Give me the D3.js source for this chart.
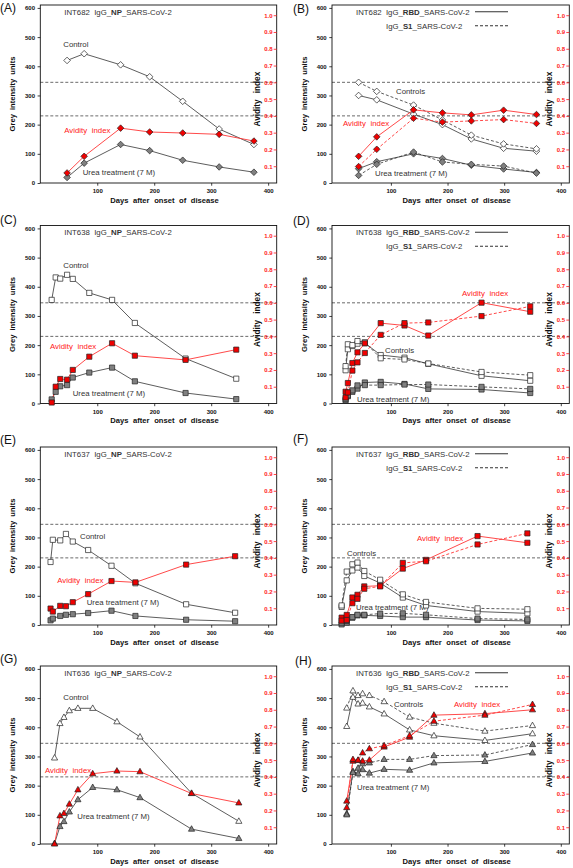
<!DOCTYPE html>
<html><head><meta charset="utf-8">
<script src="https://cdn.jsdelivr.net/npm/d3@7"></script>
<style>
body{margin:0;background:#fff}
svg{display:block}
text{font-family:Arial,"Liberation Sans",Helvetica,sans-serif}
</style>
</head><body>
<svg id="c" width="573" height="868"></svg>
<script>
// ---------------- DATA ----------------
const yTicks = [0, 100, 200, 300, 400, 500, 600];
const xTicks = [100, 200, 300, 400];
const avTicks = [0.1, 0.2, 0.3, 0.4, 0.5, 0.6, 0.7, 0.8, 0.9, 1.0];
const refLines = [0.4, 0.6];

// (A) INT682 NP
const daysA = [47, 77, 141, 192, 250, 314, 375];
const controlA = [420, 443, 405, 364, 280, 185, 132];
const ureaA = [19, 68, 132, 111, 78, 55, 37];
const avidityA = [0.06, 0.159, 0.327, 0.304, 0.298, 0.29, 0.25];

// (B) INT682 RBD / S1
const daysB = [43, 75, 140, 191, 242, 299, 357];
const controlB_RBD = [300, 285, 236, 200, 151, 119, 109];
const controlB_S1 = [345, 314, 267, 216, 164, 134, 117];
const ureaB_RBD = [49, 73, 100, 84, 61, 48, 36];
const ureaB_S1 = [26, 64, 106, 72, 64, 58, 34];
const avidityB_RBD = [0.159, 0.275, 0.436, 0.418, 0.406, 0.434, 0.408];
const avidityB_S1 = [0.098, 0.201, 0.386, 0.363, 0.37, 0.378, 0.355];

// (C) INT638 NP
const daysC = [20, 27, 35, 47, 57, 86, 126, 166, 255, 344];
const controlC = [355, 432, 428, 441, 427, 379, 355, 276, 154, 85];
const ureaC = [14, 40, 59, 63, 89, 106, 123, 76, 36, 15];
const avidityC = [0.006, 0.1, 0.146, 0.142, 0.2, 0.279, 0.359, 0.285, 0.26, 0.321];

// (D) INT638 RBD / S1
const daysD = [20, 24, 32, 41, 54, 82, 124, 166, 260, 346];
const controlD_RBD = [114, 186, 197, 205, 207, 166, 157, 136, 95, 78];
const controlD_S1 = [128, 203, 200, 214, 210, 155, 151, 137, 108, 97];
const ureaD_RBD = [11, 25, 40, 51, 72, 74, 67, 50, 48, 36];
const ureaD_S1 = [15, 28, 45, 62, 63, 63, 65, 65, 57, 50];
const avidityD_RBD = [0.07, 0.122, 0.241, 0.305, 0.359, 0.479, 0.465, 0.405, 0.601, 0.547];
const avidityD_S1 = [0.036, 0.066, 0.196, 0.245, 0.301, 0.409, 0.479, 0.483, 0.521, 0.579];

// (E) INT637 NP
const daysE = [18, 22, 35, 45, 57, 84, 125, 167, 256, 342];
const controlE = [216, 292, 290, 312, 286, 257, 203, 143, 71, 42];
const ureaE = [16, 22, 31, 35, 37, 41, 49, 31, 18, 13];
const avidityE = [0.098, 0.08, 0.114, 0.112, 0.136, 0.184, 0.262, 0.254, 0.36, 0.41];

// (F) INT637 RBD / S1
const daysF = [13, 22, 32, 41, 53, 81, 121, 162, 253, 341];
const controlF_RBD = [62, 153, 187, 197, 168, 144, 94, 67, 46, 40];
const controlF_S1 = [67, 183, 208, 214, 185, 155, 105, 79, 57, 54];
const ureaF_RBD = [2, 8, 25, 33, 33, 31, 27, 27, 17, 14];
const ureaF_S1 = [8, 14, 27, 35, 35, 39, 40, 35, 22, 19];
const avidityF_RBD = [0.044, 0.06, 0.164, 0.18, 0.23, 0.234, 0.336, 0.388, 0.53, 0.49];
const avidityF_S1 = [0.026, 0.03, 0.13, 0.156, 0.216, 0.23, 0.37, 0.38, 0.48, 0.546];

// (G) INT636 NP
const daysG = [25, 34.5, 41.5, 51, 66, 92, 134.5, 175, 265.5, 348.5];
const controlG = [295, 413, 434, 457, 465, 465, 419, 367, 174, 78];
const ureaG = [2, 60, 77, 110, 152, 194, 186, 159, 51, 19];
const avidityG = [0, 0.168, 0.182, 0.238, 0.323, 0.419, 0.435, 0.431, 0.301, 0.245];

// (H) INT636 RBD / S1
const daysH = [22, 33, 42, 50, 62, 88, 133, 176, 266, 350];
const controlH_RBD = [403, 503, 480, 483, 470, 446, 391, 371, 355, 378];
const controlH_S1 = [466, 525, 509, 515, 509, 488, 435, 414, 387, 406];
const ureaH_RBD = [104, 249, 241, 255, 243, 256, 253, 278, 283, 312];
const ureaH_S1 = [100, 245, 260, 275, 278, 290, 290, 303, 305, 341];
const avidityH_RBD = [0.256, 0.494, 0.498, 0.494, 0.5, 0.578, 0.637, 0.768, 0.777, 0.80];
const avidityH_S1 = [0.217, 0.504, 0.5, 0.543, 0.568, 0.586, 0.646, 0.732, 0.768, 0.832];

// ---------------- LAYOUT ----------------
const LEFT = [40.3, 332], WIDTH = [236.4, 237.3], PH = 178;
const XDOM = [[0, 415], [-4, 415]];
const GREY_MAX = 610, AV_UNIT = 575; // avidity 1.0 sits at 575 grey units

const panels = [
  {letter:'(A)', lx:0, ly:12, col:0, top:5, shape:'diamond', id:'INT682', ag:'NP', days:daysA,
   ctrl:[controlA], urea:[ureaA], av:[avidityA],
   texts:[['Control',23,41.5,0],['Avidity index',24,128,1],['Urea treatment (7 M)',42.4,169.5,0]]},
  {letter:'(B)', lx:293, ly:13, col:1, top:5, shape:'diamond', id:'INT682', days:daysB,
   ctrl:[controlB_RBD, controlB_S1], urea:[ureaB_RBD, ureaB_S1], av:[avidityB_RBD, avidityB_S1],
   texts:[['Controls',64,88.5,0],['Avidity index',11,120.5,1],['Urea treatment (7 M)',43,171,0]]},
  {letter:'(C)', lx:0, ly:224, col:0, top:225.5, shape:'square', id:'INT638', ag:'NP', days:daysC,
   ctrl:[controlC], urea:[ureaC], av:[avidityC],
   texts:[['Control',23,42,0],['Avidity index',9.7,123.5,1],['Urea treatment (7 M)',32.4,170,0]]},
  {letter:'(D)', lx:293, ly:225, col:1, top:225.5, shape:'square', id:'INT638', days:daysD,
   ctrl:[controlD_RBD, controlD_S1], urea:[ureaD_RBD, ureaD_S1], av:[avidityD_RBD, avidityD_S1],
   texts:[['Avidity index',130,70.5,1],['Controls',53,127,0],['Urea treatment (7 M)',25,176,0]]},
  {letter:'(E)', lx:0, ly:444, col:0, top:447, shape:'square', id:'INT637', ag:'NP', days:daysE,
   ctrl:[controlE], urea:[ureaE], av:[avidityE],
   texts:[['Control',39.7,91.5,0],['Avidity index',17,135.5,1],['Urea treatment (7 M)',46.4,158,0]]},
  {letter:'(F)', lx:293, ly:443, col:1, top:447, shape:'square', id:'INT637', days:daysF,
   ctrl:[controlF_RBD, controlF_S1], urea:[ureaF_RBD, ureaF_S1], av:[avidityF_RBD, avidityF_S1],
   texts:[['Avidity index',85,94,1],['Controls',15,109,0],['Urea treatment (7 M)',24,163,0]]},
  {letter:'(G)', lx:0, ly:663, col:0, top:666, shape:'triangle', id:'INT636', ag:'NP', days:daysG,
   ctrl:[controlG], urea:[ureaG], av:[avidityG],
   texts:[['Control',23,34,0],['Avidity index',4.7,107,1],['Urea treatment (7 M)',37,153,0]]},
  {letter:'(H)', lx:295, ly:665, col:1, top:666, shape:'triangle', id:'INT636', days:daysH,
   ctrl:[controlH_RBD, controlH_S1], urea:[ureaH_RBD, ureaH_S1], av:[avidityH_RBD, avidityH_S1],
   texts:[['Controls',62,41,0],['Avidity index',122,40.5,1],['Urea treatment (7 M)',25,124,0]]}
];

const RED_LINE = '#ff3535', RED_FILL = '#f00000', DARK = '#333';

function markerPath(shape) {
  if (shape === 'diamond') return 'M0,-3.3L3.3,0L0,3.3L-3.3,0Z';
  if (shape === 'square') return 'M-2.6,-2.6H2.6V2.6H-2.6Z';
  return 'M0,-3.4L3.1,2.1L-3.1,2.1Z';
}

const svg = d3.select('#c');

panels.forEach(p => {
  const left = LEFT[p.col], right = left + WIDTH[p.col], top = p.top, bottom = top + PH;
  const x = d3.scaleLinear().domain(XDOM[p.col]).range([left, right]);
  const y = d3.scaleLinear().domain([0, GREY_MAX]).range([bottom, top]);
  const ya = d3.scaleLinear().domain([0, GREY_MAX / AV_UNIT]).range([bottom, top]);
  const g = svg.append('g');

  // panel letter
  g.append('text').attr('x', p.lx).attr('y', p.ly).attr('font-size', 12).attr('fill', '#111').text(p.letter);

  // reference dashed lines (avidity 0.4, 0.6)
  g.selectAll('line.ref').data(refLines).join('line').attr('class', 'ref')
    .attr('x1', left).attr('x2', right).attr('y1', d => ya(d)).attr('y2', d => ya(d))
    .attr('stroke', '#444').attr('stroke-width', 0.8).attr('stroke-dasharray', '3,2');

  // frame
  g.append('rect').attr('x', left).attr('y', top).attr('width', right - left).attr('height', bottom - top)
    .attr('fill', 'none').attr('stroke', '#111').attr('stroke-width', 0.9);

  // left axis
  const ax = g.append('g').attr('transform', `translate(${left},0)`)
    .call(d3.axisLeft(y).tickValues(yTicks).tickSize(2.7).tickSizeOuter(0).tickPadding(2.6));
  // bottom axis
  const bx = g.append('g').attr('transform', `translate(0,${bottom})`)
    .call(d3.axisBottom(x).tickValues(xTicks).tickSize(2.7).tickSizeOuter(0).tickPadding(3.2));
  // right avidity axis (ticks/labels inside)
  const rx = g.append('g').attr('transform', `translate(${right},0)`)
    .call(d3.axisLeft(ya).tickValues(avTicks).tickFormat(d3.format('.1f')).tickSize(3).tickSizeOuter(0).tickPadding(1.2));
  [ax, bx, rx].forEach(a => {
    a.select('.domain').remove();
    a.selectAll('text').attr('font-size', 6).attr('font-weight', 'bold')
      .attr('font-family', 'Arial,"Liberation Sans",sans-serif').attr('fill', '#111');
    a.selectAll('line').attr('stroke', '#111').attr('stroke-width', 0.8);
  });
  rx.selectAll('text').attr('fill', '#ff1a1a');
  rx.selectAll('line').attr('stroke', '#ff1a1a');

  // axis titles
  g.append('text').attr('transform', `translate(${left - 25.3},${(top + bottom) / 2}) rotate(-90)`)
    .attr('text-anchor', 'middle').attr('font-size', 7.6).attr('font-weight', 'bold').attr('word-spacing', 2)
    .attr('fill', '#111').text('Grey intensity units');
  g.append('text').attr('x', (left + right) / 2 + 6).attr('y', bottom + 19.5)
    .attr('text-anchor', 'middle').attr('font-size', 7.6).attr('font-weight', 'bold').attr('word-spacing', 2.5)
    .attr('fill', '#111').text('Days after onset of disease');
  g.append('text').attr('transform', `translate(${right - 17},${ya(0.5)}) rotate(-90)`)
    .attr('text-anchor', 'middle').attr('font-size', 8.2).attr('font-weight', 'bold').attr('word-spacing', 4)
    .attr('fill', '#111').text('Avidity index');

  // title / legend
  if (p.col === 0) {
    const t = g.append('text').attr('x', left + 24).attr('y', top + 9.5).attr('font-size', 7.8).attr('fill', DARK);
    t.append('tspan').text(p.id + '\u00a0\u00a0IgG_');
    t.append('tspan').attr('font-weight', 'bold').text(p.ag);
    t.append('tspan').text('_SARS-CoV-2');
  } else {
    const t1 = g.append('text').attr('x', left + 24).attr('y', top + 9.5).attr('font-size', 7.8).attr('fill', DARK);
    t1.append('tspan').text(p.id + '\u00a0\u00a0IgG_');
    t1.append('tspan').attr('font-weight', 'bold').text('RBD');
    t1.append('tspan').text('_SARS-CoV-2');
    const t2 = g.append('text').attr('x', left + 54).attr('y', top + 23.5).attr('font-size', 7.8).attr('fill', DARK);
    t2.append('tspan').text('IgG_');
    t2.append('tspan').attr('font-weight', 'bold').text('S1');
    t2.append('tspan').text('_SARS-CoV-2');
    g.append('line').attr('x1', left + 143).attr('x2', left + 176).attr('y1', top + 6.8).attr('y2', top + 6.8)
      .attr('stroke', DARK).attr('stroke-width', 1.1);
    g.append('line').attr('x1', left + 143).attr('x2', left + 176).attr('y1', top + 20.8).attr('y2', top + 20.8)
      .attr('stroke', DARK).attr('stroke-width', 1.1).attr('stroke-dasharray', '3,2');
  }

  // in-plot labels
  p.texts.forEach(([txt, dx, dy, red]) => {
    g.append('text').attr('x', left + dx).attr('y', top + dy).attr('font-size', 7.8)
      .attr('word-spacing', red ? 2.5 : 0)
      .attr('fill', red ? '#ff2020' : DARK).text(txt);
  });

  const lineG = d3.line().x((d, i) => x(p.days[i])).y(d => y(d));
  const lineA = d3.line().x((d, i) => x(p.days[i])).y(d => ya(d));
  const dashOf = i => i === 1 ? '3,2' : null;

  // lines
  p.ctrl.forEach((s, i) => g.append('path').attr('d', lineG(s)).attr('fill', 'none')
    .attr('stroke', DARK).attr('stroke-width', 0.8).attr('stroke-dasharray', dashOf(i)));
  p.urea.forEach((s, i) => g.append('path').attr('d', lineG(s)).attr('fill', 'none')
    .attr('stroke', DARK).attr('stroke-width', 0.8).attr('stroke-dasharray', dashOf(i)));
  p.av.forEach((s, i) => g.append('path').attr('d', lineA(s)).attr('fill', 'none')
    .attr('stroke', RED_LINE).attr('stroke-width', 0.9).attr('stroke-dasharray', dashOf(i)));

  // markers
  const mp = markerPath(p.shape);
  const drawMarkers = (s, yy, fill) => g.append('g').selectAll('path').data(s).join('path')
    .attr('d', mp).attr('transform', (d, i) => `translate(${x(p.days[i])},${yy(d)})`)
    .attr('fill', fill).attr('stroke', '#222').attr('stroke-width', 0.7);
  p.ctrl.forEach(s => drawMarkers(s, y, '#fff'));
  p.urea.forEach(s => drawMarkers(s, y, '#808080'));
  p.av.forEach(s => drawMarkers(s, ya, RED_FILL));
});
</script>
</body></html>
